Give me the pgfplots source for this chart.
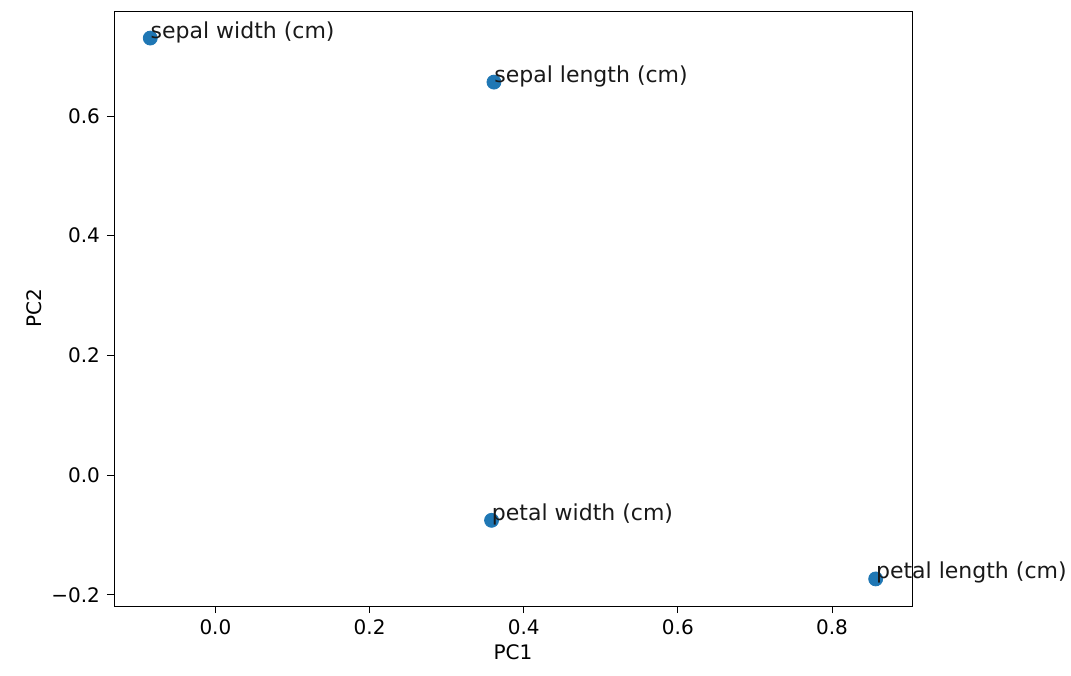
\documentclass[border=0pt]{standalone}
\usepackage{fontspec}
\setmainfont{DejaVu Sans}
\usepackage{pgfplots}
\pgfplotsset{compat=1.18}
\definecolor{mplblue}{HTML}{1F77B4}
\begin{document}
\begin{tikzpicture}
\begin{axis}[
  scale only axis,
  width=399pt, height=297.5pt,
  xmin=-0.1316, xmax=0.9038,
  ymin=-0.2186, ymax=0.7754,
  xtick={0,0.2,0.4,0.6,0.8},
  xticklabels={0.0,0.2,0.4,0.6,0.8},
  ytick={-0.2,0,0.2,0.4,0.6},
  yticklabels={−0.2,0.0,0.2,0.4,0.6},
  tick align=outside,
  tick pos=left,
  major tick length=3.5pt,
  tick style={black, line width=0.4pt},
  axis line style={black, line width=0.4pt},
  every tick label/.append style={font=\fontsize{10}{12}\selectfont},
  xlabel={PC1}, ylabel={PC2},
  label style={font=\fontsize{10}{12}\selectfont},
  xlabel style={yshift=2pt},
  ylabel style={yshift=-2pt},
  /pgf/number format/assume math mode=true,
  clip=false,
  nodes near coords={\pgfplotspointmeta},
  point meta=explicit symbolic,
  every node near coord/.style={anchor=base west, inner sep=0pt, font=\fontsize{11}{13}\selectfont, text=black!90, xshift=0pt, yshift=0pt},
]
\addplot[only marks, mark=*, mark size=3.5pt, mplblue, mark options={draw=mplblue, fill=mplblue}] table[meta=label, col sep=comma] {
x,y,label
0.36138659,0.65658877,sepal length (cm)
-0.08452251,0.73016143,sepal width (cm)
0.85667061,-0.17337266,petal length (cm)
0.3582892,-0.07548102,petal width (cm)
};
\end{axis}
\pgfresetboundingbox
\path (current axis.south west) ++(-57pt,-34.5pt) rectangle ([shift={(79.5pt,5.5pt)}]current axis.north east);
\end{tikzpicture}
\end{document}
